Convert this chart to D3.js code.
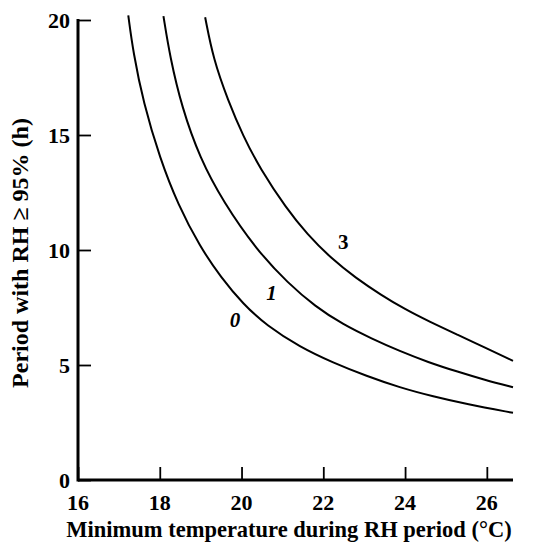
<!DOCTYPE html>
<html>
<head>
<meta charset="utf-8">
<script src="https://cdn.jsdelivr.net/npm/d3@7"></script>
<style>
  body { margin: 0; background: #fff; }
  svg text { font-family: "Liberation Serif", "Times New Roman", serif; font-weight: bold; fill: #000; }
</style>
</head>
<body>
<svg id="chart" width="537" height="545"></svg>
<script>
// values: [temperature °C, hours]
const curve0 = [[17.23, 20.2], [17.35, 18.6], [17.6, 16.4], [18.0, 14.0], [18.45, 11.95], [18.98, 10.15],
  [19.5, 8.8], [20.04, 7.65], [20.61, 6.72], [21.43, 5.78], [22.24, 5.1], [23.06, 4.52], [23.87, 4.02],
  [24.69, 3.63], [25.5, 3.3], [26.64, 2.92]];
const curve1 = [[18.09, 20.17], [18.25, 18.4], [18.54, 16.2], [18.98, 14.0], [19.55, 12.1], [20.37, 10.0],
  [21.14, 8.55], [21.8, 7.55], [22.49, 6.75], [23.18, 6.15], [23.87, 5.6], [24.57, 5.12], [25.26, 4.72],
  [25.95, 4.35], [26.64, 4.03]];
const curve3 = [[19.11, 20.12], [19.31, 18.3], [19.67, 16.5], [20.04, 14.95], [20.45, 13.55], [21.1, 11.8],
  [21.6, 10.7], [22.2, 9.62], [22.8, 8.78], [23.4, 8.06], [24.0, 7.42], [24.6, 6.88], [25.3, 6.3],
  [25.95, 5.76], [26.64, 5.18]];
const curveNames = ['0', '1', '3'];
const curveLabelPos = [[19.84, 6.96], [20.73, 8.12], [22.49, 10.36]];
const xTicks = [16, 18, 20, 22, 24, 26];
const yTicks = [0, 5, 10, 15, 20];
const xTitle = 'Minimum temperature during RH period (°C)';
const yTitle = 'Period with RH ≥ 95% (h)';

const svg = d3.select('#chart');
const x = d3.scaleLinear().domain([16, 26.64]).range([78, 513]);
const y = d3.scaleLinear().domain([0, 20]).range([480, 20]);

// axes: ticks point inward, labels drawn separately
const xAxis = svg.append('g').attr('transform', `translate(0,${y(0)})`)
  .call(d3.axisTop(x).tickValues(xTicks).tickSize(13).tickFormat(''));
const yAxis = svg.append('g').attr('transform', `translate(${x(16)},0)`)
  .call(d3.axisRight(y).tickValues(yTicks).tickSize(13).tickFormat(''));
[xAxis, yAxis].forEach(a => {
  a.select('.domain').remove();
  a.selectAll('.tick line').attr('stroke', '#000').attr('stroke-width', 1.8);
});
svg.append('line').attr('x1', x(16)).attr('x2', x(26.64)).attr('y1', y(0)).attr('y2', y(0))
  .attr('stroke', '#000').attr('stroke-width', 3);
svg.append('line').attr('x1', x(16)).attr('x2', x(16)).attr('y1', y(0) + 1.5).attr('y2', y(20) - 1)
  .attr('stroke', '#000').attr('stroke-width', 3);

svg.selectAll('.xlab').data(xTicks).enter().append('text')
  .attr('x', d => x(d)).attr('y', 510).attr('text-anchor', 'middle')
  .style('font-size', '22px').text(d => d);
svg.selectAll('.ylab').data(yTicks).enter().append('text')
  .attr('x', 70).attr('y', d => y(d) + 7.5).attr('text-anchor', 'end')
  .style('font-size', '22px').text(d => d);

svg.append('text').attr('x', 289).attr('y', 537).attr('text-anchor', 'middle')
  .style('font-size', '22.5px').text(xTitle);
svg.append('text').attr('transform', 'translate(28,253) rotate(-90)').attr('text-anchor', 'middle')
  .style('font-size', '24px').text(yTitle);

const line = d3.line().x(d => x(d[0])).y(d => y(d[1])).curve(d3.curveBasis);
svg.selectAll('.curve').data([curve0, curve1, curve3]).enter().append('path')
  .attr('d', line).attr('fill', 'none').attr('stroke', '#000').attr('stroke-width', 2);

svg.selectAll('.clab').data(curveNames).enter().append('text')
  .attr('x', (d, i) => x(curveLabelPos[i][0])).attr('y', (d, i) => y(curveLabelPos[i][1]) + 7)
  .attr('text-anchor', 'middle').style('font-size', '21px')
  .style('font-style', (d, i) => i < 2 ? 'italic' : 'normal').text(d => d);
</script>
</body>
</html>
